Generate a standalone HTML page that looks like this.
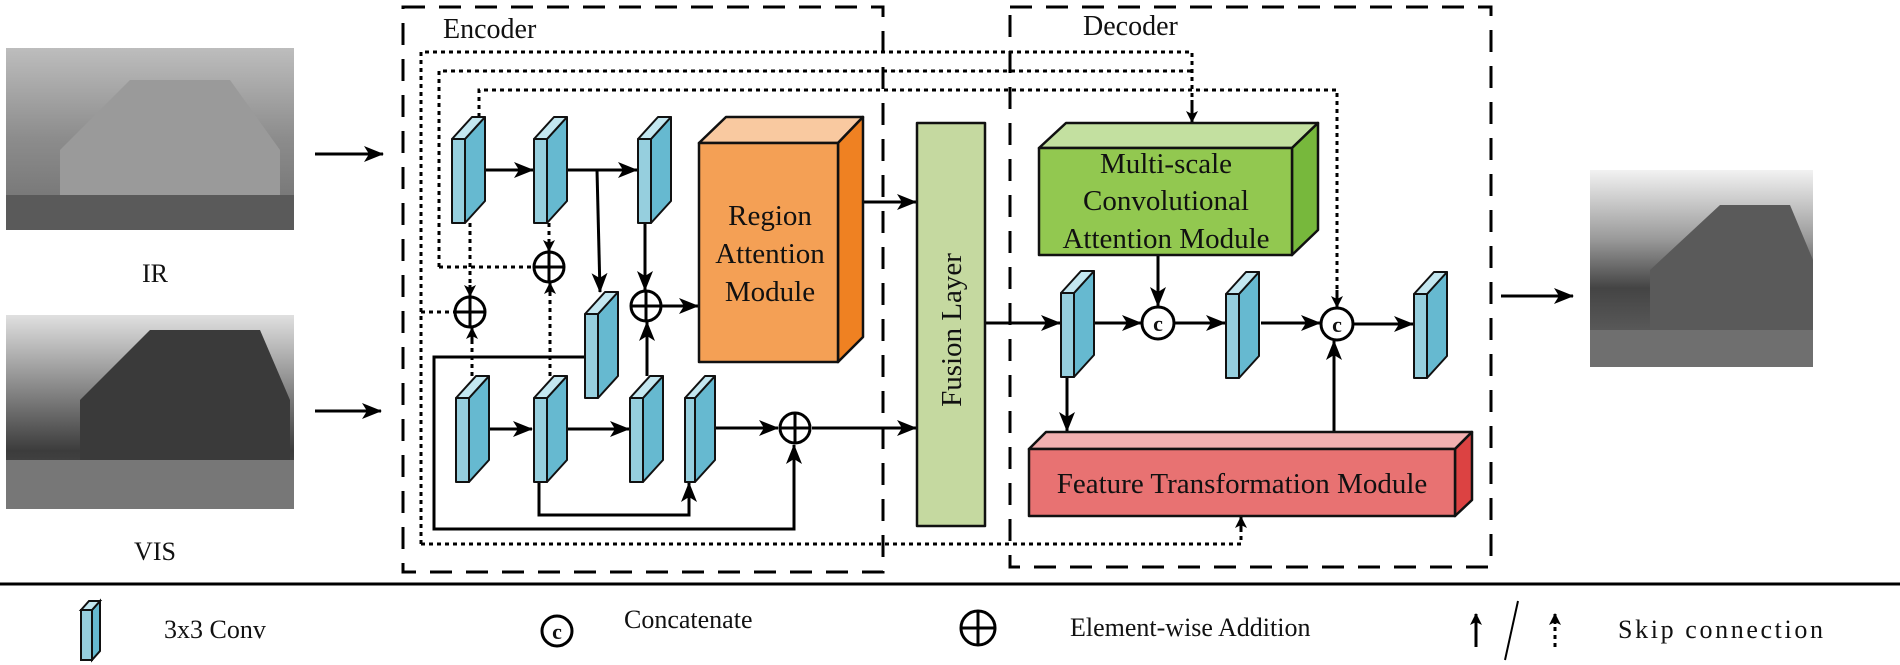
<!DOCTYPE html>
<html><head><meta charset="utf-8"><style>
html,body{margin:0;padding:0;background:#fff;width:1900px;height:665px;overflow:hidden}
svg{display:block}
text{font-family:"Liberation Serif",serif;fill:#111}
</style></head><body>
<svg width="1900" height="665" viewBox="0 0 1900 665" xmlns="http://www.w3.org/2000/svg">
<defs>
<marker id="a" markerWidth="12" markerHeight="12" refX="11" refY="6" orient="auto" markerUnits="userSpaceOnUse" viewBox="0 0 12 12"><path d="M0,0 L12,6 L0,12 L3,6 z" fill="#000"/></marker>
<marker id="b" markerWidth="20" markerHeight="16" refX="19" refY="8" orient="auto" markerUnits="userSpaceOnUse" viewBox="0 0 20 16"><path d="M0,0 L20,8 L0,16 L5,8 z" fill="#000"/></marker>
<linearGradient id="sky" x1="0" y1="0" x2="0" y2="1"><stop offset="0" stop-color="#bdbdbd"/><stop offset="0.5" stop-color="#8c8c8c"/><stop offset="1" stop-color="#6e6e6e"/></linearGradient>
<linearGradient id="sky2" x1="0" y1="0" x2="0" y2="1"><stop offset="0" stop-color="#e0e0e0"/><stop offset="0.45" stop-color="#777"/><stop offset="0.7" stop-color="#3c3c3c"/><stop offset="1" stop-color="#555"/></linearGradient>
<linearGradient id="sky3" x1="0" y1="0" x2="0" y2="1"><stop offset="0" stop-color="#f2f2f2"/><stop offset="0.35" stop-color="#9a9a9a"/><stop offset="0.6" stop-color="#444"/><stop offset="1" stop-color="#6a6a6a"/></linearGradient>
</defs>

<!-- input images -->
<rect x="6" y="48" width="288" height="182" fill="url(#sky)"/>
<polygon points="60,150 130,80 230,80 280,150 280,200 60,200" fill="#9a9a9a"/>
<rect x="6" y="195" width="288" height="35" fill="#5a5a5a"/>
<rect x="6" y="315" width="288" height="194" fill="url(#sky2)"/>
<polygon points="80,400 150,330 260,330 290,400 290,460 80,460" fill="#3a3a3a"/>
<rect x="6" y="460" width="288" height="49" fill="#777"/>
<text x="155" y="282" font-size="26" text-anchor="middle">IR</text>
<text x="155" y="560" font-size="26" text-anchor="middle">VIS</text>
<line x1="315" y1="154" x2="383" y2="154" stroke="#000" stroke-width="3" marker-end="url(#b)"/>
<line x1="315" y1="411" x2="381" y2="411" stroke="#000" stroke-width="3" marker-end="url(#b)"/>

<!-- output image -->
<rect x="1590" y="170" width="223" height="197" fill="url(#sky3)"/>
<polygon points="1650,270 1720,205 1790,205 1813,260 1813,330 1650,330" fill="#5a5a5a"/>
<rect x="1590" y="330" width="223" height="37" fill="#6f6f6f"/>
<line x1="1501" y1="296" x2="1573" y2="296" stroke="#000" stroke-width="3" marker-end="url(#b)"/>

<!-- dashed borders -->
<rect x="403" y="7" width="480" height="565" fill="none" stroke="#000" stroke-width="3" stroke-dasharray="22 14"/>
<rect x="1010" y="7" width="481" height="560" fill="none" stroke="#000" stroke-width="3" stroke-dasharray="22 14"/>
<text x="443" y="38" font-size="28">Encoder</text>
<text x="1083" y="35" font-size="28">Decoder</text>

<!-- dotted skip lines -->
<g fill="none" stroke="#000" stroke-width="3" stroke-dasharray="4 4">
<polyline points="421,544 421,52 1192,52 1192,110"/>
<polyline points="439,267 439,71 1192,71"/>
<polyline points="479,117 479,90 1337,90 1337,296"/>
<polyline points="421,544 1241,544 1241,527"/>
<line x1="421" y1="312" x2="455" y2="312"/>
<line x1="439" y1="267" x2="534" y2="267"/>
<line x1="470" y1="223" x2="470" y2="288"/>
<line x1="472" y1="376" x2="472" y2="336"/>
<line x1="549" y1="223" x2="549" y2="244"/>
<line x1="550" y1="376" x2="550" y2="290"/>
</g>
<g stroke="#000" stroke-width="3" fill="none">
<line x1="1192" y1="100" x2="1192" y2="122" marker-end="url(#a)"/>
<line x1="1337" y1="290" x2="1337" y2="307" marker-end="url(#a)"/>
<line x1="1241" y1="530" x2="1241" y2="517" marker-end="url(#a)"/>
<line x1="470" y1="285" x2="470" y2="296" marker-end="url(#a)"/>
<line x1="472" y1="340" x2="472" y2="328" marker-end="url(#a)"/>
<line x1="549" y1="240" x2="549" y2="251" marker-end="url(#a)"/>
<line x1="550" y1="295" x2="550" y2="283" marker-end="url(#a)"/>
</g>

<!-- solid connections -->
<g stroke="#000" stroke-width="3" fill="none">
<line x1="485" y1="170" x2="533" y2="170" marker-end="url(#b)"/>
<line x1="567" y1="170" x2="637" y2="170" marker-end="url(#b)"/>
<line x1="597" y1="170" x2="600" y2="292" marker-end="url(#b)"/>
<line x1="645" y1="223" x2="645" y2="290" marker-end="url(#b)"/>
<line x1="661" y1="306" x2="698" y2="306" marker-end="url(#b)"/>
<line x1="647" y1="376" x2="647" y2="322" marker-end="url(#b)"/>
<polyline points="585,357 434,357 434,529 794,529 794,445" marker-end="url(#b)"/>
<polyline points="539,482 539,515 689,515 689,483" marker-end="url(#b)"/>
<line x1="489" y1="429" x2="532" y2="429" marker-end="url(#b)"/>
<line x1="567" y1="429" x2="629" y2="429" marker-end="url(#b)"/>
<line x1="716" y1="428" x2="778" y2="428" marker-end="url(#b)"/>
<line x1="812" y1="428" x2="916" y2="428" marker-end="url(#b)"/>
<line x1="863" y1="202" x2="916" y2="202" marker-end="url(#b)"/>
<line x1="985" y1="323" x2="1060" y2="323" marker-end="url(#b)"/>
<line x1="1094" y1="323" x2="1141" y2="323" marker-end="url(#b)"/>
<line x1="1174" y1="323" x2="1225" y2="323" marker-end="url(#b)"/>
<line x1="1158" y1="255" x2="1158" y2="306" marker-end="url(#b)"/>
<line x1="1067" y1="377" x2="1067" y2="431" marker-end="url(#b)"/>
<line x1="1261" y1="323" x2="1320" y2="323" marker-end="url(#b)"/>
<line x1="1353" y1="324" x2="1413" y2="324" marker-end="url(#b)"/>
<line x1="1334" y1="432" x2="1334" y2="341" marker-end="url(#b)"/>
</g>

<!-- conv blocks -->
<g stroke="#111" stroke-width="2" stroke-linejoin="round">
<g transform="translate(452,139)"><rect x="0" y="0" width="13" height="84" fill="#96cfde"/><polygon points="13,0 33,-22 33,62 13,84" fill="#66b9d0"/><polygon points="0,0 20,-22 33,-22 13,0" fill="#c3e7f0"/></g>
<g transform="translate(534,139)"><rect x="0" y="0" width="13" height="84" fill="#96cfde"/><polygon points="13,0 33,-22 33,62 13,84" fill="#66b9d0"/><polygon points="0,0 20,-22 33,-22 13,0" fill="#c3e7f0"/></g>
<g transform="translate(638,139)"><rect x="0" y="0" width="13" height="84" fill="#96cfde"/><polygon points="13,0 33,-22 33,62 13,84" fill="#66b9d0"/><polygon points="0,0 20,-22 33,-22 13,0" fill="#c3e7f0"/></g>
<g transform="translate(585,314)"><rect x="0" y="0" width="13" height="84" fill="#96cfde"/><polygon points="13,0 33,-22 33,62 13,84" fill="#66b9d0"/><polygon points="0,0 20,-22 33,-22 13,0" fill="#c3e7f0"/></g>
<g transform="translate(456,398)"><rect x="0" y="0" width="13" height="84" fill="#96cfde"/><polygon points="13,0 33,-22 33,62 13,84" fill="#66b9d0"/><polygon points="0,0 20,-22 33,-22 13,0" fill="#c3e7f0"/></g>
<g transform="translate(534,398)"><rect x="0" y="0" width="13" height="84" fill="#96cfde"/><polygon points="13,0 33,-22 33,62 13,84" fill="#66b9d0"/><polygon points="0,0 20,-22 33,-22 13,0" fill="#c3e7f0"/></g>
<g transform="translate(630,398)"><rect x="0" y="0" width="13" height="84" fill="#96cfde"/><polygon points="13,0 33,-22 33,62 13,84" fill="#66b9d0"/><polygon points="0,0 20,-22 33,-22 13,0" fill="#c3e7f0"/></g>
<g transform="translate(685,398)"><rect x="0" y="0" width="10" height="84" fill="#96cfde"/><polygon points="10,0 30,-22 30,62 10,84" fill="#66b9d0"/><polygon points="0,0 20,-22 30,-22 10,0" fill="#c3e7f0"/></g>
<g transform="translate(1061,293)"><rect x="0" y="0" width="13" height="84" fill="#96cfde"/><polygon points="13,0 33,-22 33,62 13,84" fill="#66b9d0"/><polygon points="0,0 20,-22 33,-22 13,0" fill="#c3e7f0"/></g>
<g transform="translate(1226,294)"><rect x="0" y="0" width="13" height="84" fill="#96cfde"/><polygon points="13,0 33,-22 33,62 13,84" fill="#66b9d0"/><polygon points="0,0 20,-22 33,-22 13,0" fill="#c3e7f0"/></g>
<g transform="translate(1414,294)"><rect x="0" y="0" width="13" height="84" fill="#96cfde"/><polygon points="13,0 33,-22 33,62 13,84" fill="#66b9d0"/><polygon points="0,0 20,-22 33,-22 13,0" fill="#c3e7f0"/></g>
</g>

<!-- big modules -->
<g stroke="#111" stroke-width="2.5" stroke-linejoin="round">
<polygon points="699,143 726,117 863,117 838,143" fill="#f9c9a0"/>
<polygon points="838,143 863,117 863,337 838,362" fill="#ef8122"/>
<rect x="699" y="143" width="139" height="219" fill="#f4a055"/>
<rect x="917" y="123" width="68" height="403" fill="#c5d9a0"/>
<polygon points="1039,148 1066,123 1318,123 1292,148" fill="#c3e0a0"/>
<polygon points="1292,148 1318,123 1318,230 1292,255" fill="#77b83c"/>
<rect x="1039" y="148" width="253" height="107" fill="#92c850"/>
<polygon points="1029,449 1046,432 1472,432 1455,449" fill="#f2b0b0"/>
<polygon points="1455,449 1472,432 1472,500 1455,516" fill="#dc4242"/>
<rect x="1029" y="449" width="426" height="67" fill="#e87272"/>
</g>
<g font-size="29" text-anchor="middle">
<text x="770" y="225">Region</text>
<text x="770" y="263">Attention</text>
<text x="770" y="301">Module</text>
<text x="1166" y="173">Multi-scale</text>
<text x="1166" y="210">Convolutional</text>
<text x="1166" y="248">Attention Module</text>
<text x="1242" y="493">Feature Transformation Module</text>
<text transform="translate(961,330) rotate(-90)" x="0" y="0">Fusion  Layer</text>
</g>

<!-- circles -->
<g stroke="#000" stroke-width="3" fill="#fff">
<circle cx="470" cy="312" r="15"/><path d="M455,312 H485 M470,297 V327"/>
<circle cx="549" cy="267" r="15"/><path d="M534,267 H564 M549,252 V282"/>
<circle cx="646" cy="306" r="15"/><path d="M631,306 H661 M646,291 V321"/>
<circle cx="795" cy="428" r="15"/><path d="M780,428 H810 M795,413 V443"/>
<circle cx="1158" cy="323" r="16"/>
<circle cx="1337" cy="324" r="16"/>
</g>
<text x="1158" y="331" font-size="22" text-anchor="middle" font-weight="bold">c</text>
<text x="1337" y="332" font-size="22" text-anchor="middle" font-weight="bold">c</text>

<!-- legend -->
<line x1="0" y1="584" x2="1900" y2="584" stroke="#000" stroke-width="3"/>
<g stroke="#111" stroke-width="2"><rect x="81" y="610" width="11" height="50" fill="#96cfde"/><polygon points="92,610 100,601 100,651 92,660" fill="#66b9d0"/><polygon points="81,610 89,601 100,601 92,610" fill="#c3e7f0"/></g>
<text x="164" y="638" font-size="26">3x3 Conv</text>
<circle cx="557" cy="631" r="15" fill="#fff" stroke="#000" stroke-width="3"/>
<text x="557" y="639" font-size="22" text-anchor="middle" font-weight="bold">c</text>
<text x="624" y="628" font-size="26">Concatenate</text>
<circle cx="978" cy="628" r="17" fill="#fff" stroke="#000" stroke-width="3"/>
<path d="M961,628 H995 M978,611 V645" stroke="#000" stroke-width="3"/>
<text x="1070" y="636" font-size="26">Element-wise Addition</text>
<line x1="1476" y1="647" x2="1476" y2="614" stroke="#000" stroke-width="3" marker-end="url(#a)"/>
<line x1="1518" y1="601" x2="1505" y2="660" stroke="#000" stroke-width="2"/>
<line x1="1555" y1="647" x2="1555" y2="622" stroke="#000" stroke-width="3" stroke-dasharray="4 4"/>
<line x1="1555" y1="624" x2="1555" y2="614" stroke="#000" stroke-width="3" marker-end="url(#a)"/>
<text x="1618" y="638" font-size="26" textLength="205">Skip connection</text>
</svg>
</body></html>
